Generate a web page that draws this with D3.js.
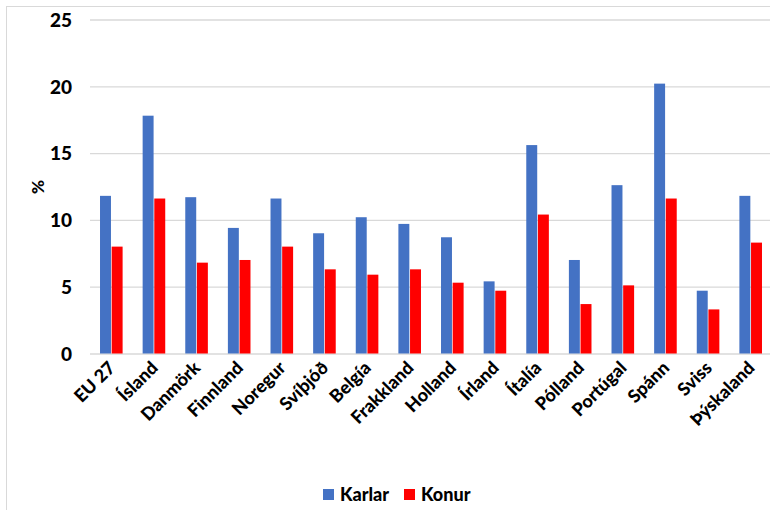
<!DOCTYPE html>
<html>
<head>
<meta charset="utf-8">
<script src="https://cdn.jsdelivr.net/npm/d3@7"></script>
<style>
  body { margin: 0; background: #fff; }
  text { font-family: Lato, "Open Sans", sans-serif; font-weight: bold; fill: #000; }
</style>
</head>
<body>
<div id="chart"></div>
<script>
var countries = ['EU 27', 'Ísland', 'Danmörk', 'Finnland', 'Noregur', 'Svíþjóð', 'Belgía', 'Frakkland',
  'Holland', 'Írland', 'Ítalía', 'Pólland', 'Portúgal', 'Spánn', 'Sviss', 'Þýskaland'];
var karlar = [11.8, 17.8, 11.7, 9.4, 11.6, 9.0, 10.2, 9.7, 8.7, 5.4, 15.6, 7.0, 12.6, 20.2, 4.7, 11.8];
var konur = [8.0, 11.6, 6.8, 7.0, 8.0, 6.3, 5.9, 6.3, 5.3, 4.7, 10.4, 3.7, 5.1, 11.6, 3.3, 8.3];
var seriesNames = ['Karlar', 'Konur'];
var yTicks = [0, 5, 10, 15, 20, 25];

var colors = { Karlar: '#4472C4', Konur: '#FF0000' };

var width = 770, height = 510;
var plot = { left: 90, right: 772, top: 19.5, bottom: 353.5 };

var svg = d3.select('#chart').append('svg')
  .attr('width', width)
  .attr('height', height);

// chart area border
svg.append('rect')
  .attr('x', 6.5)
  .attr('y', 6.5)
  .attr('width', 800)
  .attr('height', 600)
  .attr('fill', 'none')
  .attr('stroke', '#d9d9d9')
  .attr('stroke-width', 1);

var y = d3.scaleLinear()
  .domain([0, 25])
  .range([plot.bottom, plot.top]);

var x0 = d3.scaleBand()
  .domain(countries)
  .range([plot.left, plot.right])
  .paddingInner(0.47)
  .paddingOuter(0.235);

var x1 = d3.scaleBand()
  .domain(seriesNames)
  .range([0, x0.bandwidth()])
  .paddingInner(0.06);

// gridlines + y labels
var yAxis = svg.append('g')
  .attr('transform', 'translate(' + plot.left + ',0)')
  .call(d3.axisLeft(y).tickValues(yTicks).tickSize(-(plot.right - plot.left)).tickPadding(18));

yAxis.select('.domain').remove();
yAxis.selectAll('.tick line').attr('stroke', '#d9d9d9').attr('stroke-width', 1.3);
yAxis.selectAll('.tick text')
  .style('font-size', '19px')
  .style('font-weight', 900)
  .attr('dy', '0.36em');

svg.append('text')
  .attr('transform', 'translate(44,187) rotate(-90)')
  .attr('text-anchor', 'middle')
  .style('font-size', '17px')
  .style('font-weight', 900)
  .text('%');

var rows = countries.map(function (c, i) {
  return { country: c, values: [{ key: 'Karlar', value: karlar[i] }, { key: 'Konur', value: konur[i] }] };
});

var groups = svg.append('g').selectAll('g')
  .data(rows)
  .enter()
  .append('g')
  .attr('transform', function (d) { return 'translate(' + x0(d.country) + ',0)'; });

groups.selectAll('rect')
  .data(function (d) { return d.values; })
  .enter()
  .append('rect')
  .attr('x', function (d) { return x1(d.key); })
  .attr('y', function (d) { return y(d.value); })
  .attr('width', x1.bandwidth())
  .attr('height', function (d) { return y(0) - y(d.value); })
  .attr('fill', function (d) { return colors[d.key]; });

// x labels
svg.append('g').selectAll('text')
  .data(countries)
  .enter()
  .append('text')
  .attr('transform', function (d) {
    return 'translate(' + (x0(d) + x0.bandwidth() / 2 + 5) + ',369) rotate(-45)';
  })
  .attr('text-anchor', 'end')
  .style('font-size', '18px')
  .style('font-weight', 900)
  .text(function (d) { return d; });

// legend
var legend = svg.append('g').attr('transform', 'translate(323,489)');
var items = [{ key: 'Karlar', x: 0 }, { key: 'Konur', x: 81 }];
var item = legend.selectAll('g')
  .data(items)
  .enter()
  .append('g')
  .attr('transform', function (d) { return 'translate(' + d.x + ',0)'; });
item.append('rect')
  .attr('width', 11)
  .attr('height', 11)
  .attr('fill', function (d) { return colors[d.key]; });
item.append('text')
  .attr('x', 17)
  .attr('y', 11.5)
  .style('font-size', '18px')
  .style('font-weight', 900)
  .text(function (d) { return d.key; });
</script>
</body>
</html>
